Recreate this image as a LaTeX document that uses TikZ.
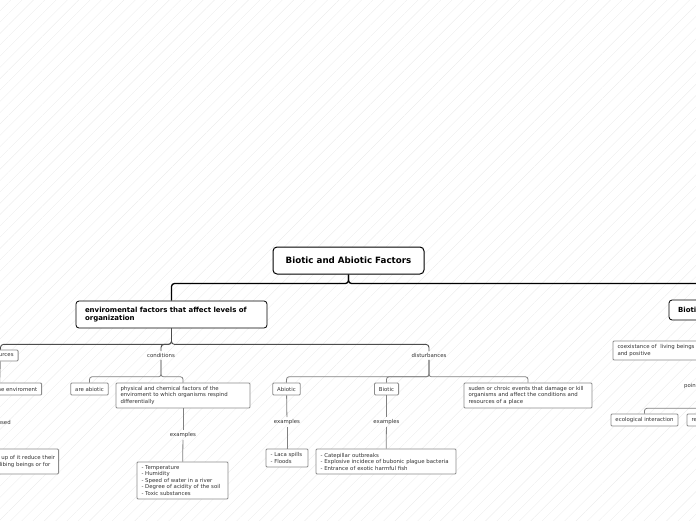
\documentclass[tikz,border=0pt]{standalone}
\usepackage{fontspec}
\setmainfont{DejaVu Sans}
\usetikzlibrary{patterns.meta}

\tikzset{
  root/.style={draw=black, fill=white, line width=1pt, rounded corners=4pt,
    font=\fontsize{8.7}{10}\selectfont\bfseries, minimum width=151pt, minimum height=27pt},
  topic/.style={draw=black, fill=white, line width=0.8pt, rounded corners=3pt,
    font=\fontsize{7}{8.7}\selectfont\bfseries, align=left, inner xsep=9pt, minimum height=#1},
  leaf/.style={draw=black!45, fill=white, line width=0.9pt, rounded corners=1pt, text=black!80,
    font=\fontsize{5.4}{6.5}\selectfont, align=left, inner xsep=4.5pt, inner ysep=2pt},
  tag/.style={text=black!80, font=\fontsize{5.4}{6.5}\selectfont, inner sep=2pt},
  trunk/.style={draw=black, line width=1.3pt, rounded corners=3pt},
  branch/.style={draw=black!70, line width=0.9pt, rounded corners=3pt},
  twig/.style={draw=black!50, line width=0.8pt, rounded corners=2.5pt},
  drop/.style={to path={-- ++(0,#1) -| (\tikztotarget)}}
}

\begin{document}
\begin{tikzpicture}[x=1pt, y=-1pt]
  \useasboundingbox (0,0) rectangle (696,520);
  \clip (0,0) rectangle (696,520);
  \fill[pattern={Lines[angle=45, distance=8pt, line width=0.4pt]}, pattern color=black!7]
    (0,0) rectangle (696,520);

  % main topics
  \node[root] (top) at (348.5,260.5) {Biotic and Abiotic Factors};
  \node[topic=27pt, text width=173pt] (env) at (171.5,314.5)
    {enviromental factors that affect levels of\\organization};
  \node[topic=20pt] (biof) at (705,310) {Biotic Factors};

  % abiotic side
  \node[leaf, minimum height=11pt] (res) at (0.5,355.5) {resources};
  \node[tag] (cond) at (161,355.5) {conditions};
  \node[tag] (dist) at (429,355.5) {disturbances};

  \node[leaf, minimum height=12pt] (envr) at (-0.5,389) {elements of the enviroment};
  \node[tag] (used) at (-1,422) {are used};
  \node[leaf, inner xsep=3.5pt, minimum height=25pt, anchor=east] (cons) at (59,461.5)
    {the excessive using up of it reduce their\\own availability for libing beings or for};

  \node[leaf, minimum height=12pt] (abic) at (89.5,389) {are abiotic};
  \node[leaf, text width=125pt, minimum height=25pt] (phys) at (183,395.5)
    {physical and chemical factors of the\\enviroment to which organisms respind\\differentially};
  \node[tag] (ex1) at (183,435) {examples};
  \node[leaf, text width=82pt, minimum height=37pt] (temp) at (182.5,480.5)
    {- Temperature\\- Humidity\\- Speed of water in a river\\- Degree of acidity of the soil\\- Toxic substances};

  \node[leaf, minimum height=12pt] (abio) at (286.5,389) {Abiotic};
  \node[leaf, minimum height=12pt] (bio) at (386.5,389) {Biotic};
  \node[leaf, text width=119pt, minimum height=25pt] (sud) at (528,395.5)
    {suden or chroic events that damage or kill\\organisms and affect the conditions and\\resources of a place};
  \node[tag] (ex2) at (287,422) {examples};
  \node[tag] (ex3) at (386.5,422) {examples};
  \node[leaf, text width=33pt, minimum height=18pt] (spill) at (287,458)
    {- Laca spills\\- Floods};
  \node[leaf, text width=131pt, minimum height=25pt] (pest) at (386,461.5)
    {- Catepillar outbreaks\\- Explosive incidece of bubonic plague bacteria\\- Entrance of exotic harmful fish};

  % biotic side
  \node[leaf, text width=171pt, minimum height=19pt] (coex) at (703,350.5)
    {coexistance of \ living beings that can be negative\\and positive};
  \node[tag] (pov) at (703,386) {points of view};
  \node[leaf, minimum height=12pt] (eco) at (644.5,420) {ecological interaction};
  \node[leaf, minimum height=12pt] (rel) at (708.8,420) {relationships};

  \path[trunk]
  (top.south) edge[drop=9] (env.north)
  (top.south) edge[drop=9] (biof.north);

  \path[branch]
  (env.south) edge[drop=16] (res.north)
  (env.south) edge[drop=16] (cond.north)
  (env.south) edge[drop=16] (dist.north)
  (biof.south) edge[drop=12] (coex.north);

  \path[twig]
  (res) edge (envr)
  (envr) edge (used)
  (used) edge (used |- cons.north)
  (cond.south) edge[drop=17] (abic.north)
  (cond.south) edge[drop=17] (phys.north)
  (phys) edge (ex1)
  (ex1) edge (temp)
  (dist.south) edge[drop=17] (abio.north)
  (dist.south) edge[drop=17] (bio.north)
  (dist.south) edge[drop=17] (sud.north)
  (abio) edge (ex2)
  (ex2) edge (spill)
  (bio) edge (ex3)
  (ex3) edge (pest)
  (coex) edge (pov)
  (pov.south) edge[drop=17.5] (eco.north)
  (pov.south) edge[drop=17.5] (rel.north);
\end{tikzpicture}
\end{document}
